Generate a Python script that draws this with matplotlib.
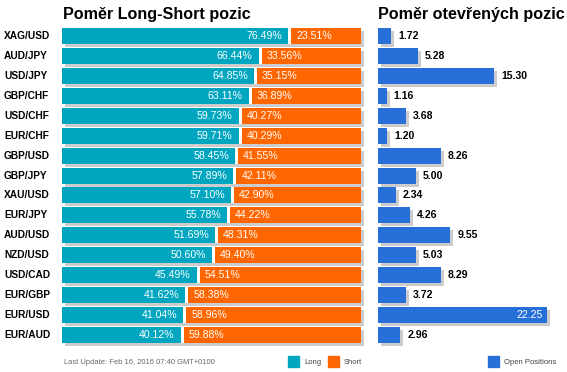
import matplotlib.pyplot as plt
from matplotlib import transforms
from matplotlib.patches import Rectangle

plt.rcParams['font.family'] = ['Liberation Sans', 'DejaVu Sans']

pairs = ["XAG/USD", "AUD/JPY", "USD/JPY", "GBP/CHF", "USD/CHF", "EUR/CHF",
         "GBP/USD", "GBP/JPY", "XAU/USD", "EUR/JPY", "AUD/USD", "NZD/USD",
         "USD/CAD", "EUR/GBP", "EUR/USD", "EUR/AUD"]
long_pct = [76.49, 66.44, 64.85, 63.11, 59.73, 59.71, 58.45, 57.89, 57.10,
            55.78, 51.69, 50.60, 45.49, 41.62, 41.04, 40.12]
short_pct = [23.51, 33.56, 35.15, 36.89, 40.27, 40.29, 41.55, 42.11, 42.90,
             44.22, 48.31, 49.40, 54.51, 58.38, 58.96, 59.88]
open_pos = [1.72, 5.28, 15.30, 1.16, 3.68, 1.20, 8.26, 5.00, 2.34, 4.26,
            9.55, 5.03, 8.29, 3.72, 22.25, 2.96]

C_LONG = "#00a6bf"
C_SHORT = "#ff6600"
C_OPEN = "#276fd9"
C_SHADOW = "#cccccc"

W, H = 567, 372
fig = plt.figure(figsize=(W / 100, H / 100), dpi=100)


def box(x0, y0, x1, y1):
    # pixel box (top-left origin) -> figure fraction rect
    return [x0 / W, 1 - y1 / H, (x1 - x0) / W, (y1 - y0) / H]


n = len(pairs)
rows = list(range(n))
step = 19.93
top = 36 - step / 2
bot = top + step * n
bh = 16 / step

# left panel: 0..100 plus a 3px gap
gap = 3 / 296 * 100
axl = fig.add_axes(box(62, top, 361, bot))
axl.set_xlim(0, 100 + gap)
axl.set_ylim(n - 0.5, -0.5)
axl.axis("off")

shadow_l = transforms.offset_copy(axl.transData, fig=fig, x=3, y=-3, units="dots")
axl.barh(rows, [100 + gap] * n, height=bh, color=C_SHADOW, transform=shadow_l,
         clip_on=False, zorder=1)
axl.barh(rows, long_pct, height=bh, color=C_LONG, zorder=2)
axl.barh(rows, [gap] * n, left=long_pct, height=bh, color="white", zorder=2)
axl.barh(rows, short_pct, left=[l + gap for l in long_pct], height=bh,
         color=C_SHORT, zorder=2)

lbl_l = transforms.offset_copy(axl.transData, fig=fig, x=-6, y=0, units="dots")
lbl_s = transforms.offset_copy(axl.transData, fig=fig, x=5, y=0, units="dots")
row_tr = transforms.blended_transform_factory(fig.transFigure, axl.transData)
for i in rows:
    axl.text(long_pct[i], i, f"{long_pct[i]:.2f}%", transform=lbl_l, ha="right",
             va="center", color="white", fontsize=7.6, zorder=3)
    axl.text(long_pct[i] + gap, i, f"{short_pct[i]:.2f}%", transform=lbl_s,
             ha="left", va="center", color="white", fontsize=7.6, zorder=3)
    axl.text(4 / W, i, pairs[i], transform=row_tr, ha="left", va="center",
             fontsize=7.3, fontweight="bold", color="black")

# right panel: open positions
px_per = 168.7 / 22.25
axr = fig.add_axes(box(378, top, W, bot))
axr.set_xlim(0, (W - 378) / px_per)
axr.set_ylim(n - 0.5, -0.5)
axr.axis("off")

shadow_r = transforms.offset_copy(axr.transData, fig=fig, x=3, y=-3, units="dots")
axr.barh(rows, open_pos, height=bh, color=C_SHADOW, transform=shadow_r,
         clip_on=False, zorder=1)
axr.barh(rows, open_pos, height=bh, color=C_OPEN, zorder=2)
lbl_out = transforms.offset_copy(axr.transData, fig=fig, x=7, y=0, units="dots")
lbl_in = transforms.offset_copy(axr.transData, fig=fig, x=-4, y=0, units="dots")
for i in rows:
    v = open_pos[i]
    if v > 20:
        axr.text(v, i, f"{v:.2f}", transform=lbl_in, ha="right", va="center",
                 color="white", fontsize=7.6, zorder=3)
    else:
        axr.text(v, i, f"{v:.2f}", transform=lbl_out, ha="left", va="center",
                 color="black", fontsize=7.6, fontweight="bold", zorder=3)

# titles
fig.text(63 / W, 1 - 19.5 / H, "Poměr Long-Short pozic", fontsize=11.6,
         fontweight="bold", va="baseline", ha="left")
fig.text(378 / W, 1 - 19.5 / H, "Poměr otevřených pozic", fontsize=11.6,
         fontweight="bold", va="baseline", ha="left")

# footer + legend
fig.text(64 / W, 1 - 363 / H, "Last Update: Feb 16, 2016 07:40 GMT+0100",
         fontsize=5.4, color="#666666", va="center", ha="left")
legend = [(288, C_LONG, "Long"), (328, C_SHORT, "Short"), (488, C_OPEN, "Open Positions")]
for x, c, t in legend:
    fig.patches.append(Rectangle((x / W, 1 - 367 / H), 11 / W, 11 / H,
                                 transform=fig.transFigure, color=c))
    fig.text((x + 16) / W, 1 - 362 / H, t, fontsize=5.5, color="#444444",
             va="center", ha="left")

fig.savefig("out.png", dpi=100)
